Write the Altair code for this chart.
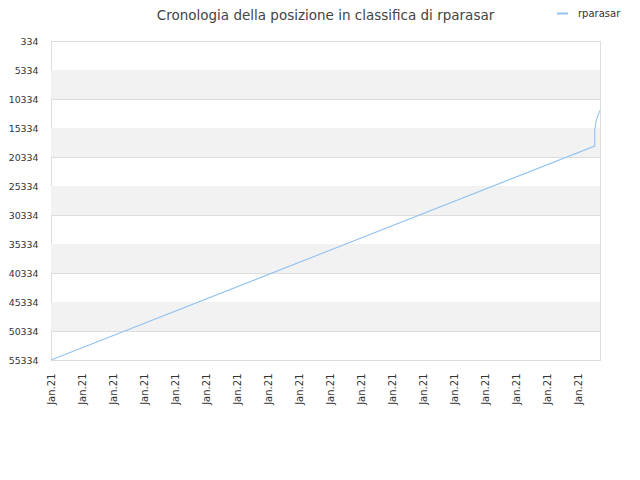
import altair as alt
import pandas as pd

# series (x = position in time, days index; rank)
xs = [0, 17.53, 17.53, 17.58, 17.63, 17.70]
ranks = [55334, 18450, 15700, 14000, 13200, 12300]
series = ["rparasar"] * len(xs)

y_ticks = [334, 5334, 10334, 15334, 20334, 25334, 30334, 35334, 40334, 45334, 50334, 55334]
x_ticks = list(range(18))
x_label = "Jan.21"
band_start = [5334, 15334, 25334, 35334, 45334]
band_end = [10334, 20334, 30334, 40334, 50334]
title_text = ["Cronologia della posizione in classifica di rparasar"]

df = pd.DataFrame({"x": xs, "rank": ranks, "series": series})
bands = pd.DataFrame({"y": band_start, "y2": band_end})
tdf = pd.DataFrame({"t": title_text})

FONT = "DejaVu Sans"
xscale = alt.Scale(domain=[0, 17.7], nice=False, zero=False)
yscale = alt.Scale(domain=[334, 55334], reverse=True, nice=False, zero=False)

yaxis = alt.Axis(values=y_ticks, format="d", title=None, grid=True, gridColor="#dddddd",
                 ticks=False, domainColor="#dddddd", labelColor="#333333",
                 labelOverlap=False, labelFont=FONT, labelFontSize=9.4, labelPadding=13)

band_layer = alt.Chart(bands).mark_rect(color="#f2f2f2").encode(
    y=alt.Y("y:Q", scale=yscale, axis=yaxis),
    y2="y2:Q",
    x=alt.value(0),
    x2=alt.value(549),
)

line = alt.Chart(df).mark_line(strokeWidth=1.1).encode(
    x=alt.X("x:Q", scale=xscale,
            axis=alt.Axis(values=x_ticks, labelExpr="'" + x_label + "'", labelAngle=270,
                          labelAlign="right", labelBaseline="middle", title=None,
                          grid=False, ticks=False,
                          domainColor="#dddddd", labelColor="#333333", labelOverlap=False,
                          labelFont=FONT, labelFontSize=10, labelPadding=13)),
    y=alt.Y("rank:Q", scale=yscale, axis=yaxis),
    color=alt.Color("series:N", scale=alt.Scale(range=["#90c2f2"]),
                    legend=alt.Legend(title=None, orient="none", legendX=505, legendY=-34,
                                      symbolType="stroke", symbolSize=120, symbolStrokeWidth=2,
                                      labelOffset=9,
                                      labelFont=FONT, labelFontSize=10, labelColor="#333333")),
)

title = alt.Chart(tdf).mark_text(font=FONT, fontSize=13.5, color="#444444",
                                 align="center", baseline="alphabetic").encode(
    text="t:N", x=alt.value(274.5), y=alt.value(-21))

chart = alt.layer(band_layer, line, title).properties(
    width=549, height=319,
    autosize=alt.AutoSizeParams(type="none"),
    padding={"left": 43, "top": 33, "right": 32, "bottom": 112},
).configure_view(stroke="#dddddd").configure_axis(labelOverlap=False)

chart.save("out.html", embed_options={"renderer": "svg", "actions": False})
